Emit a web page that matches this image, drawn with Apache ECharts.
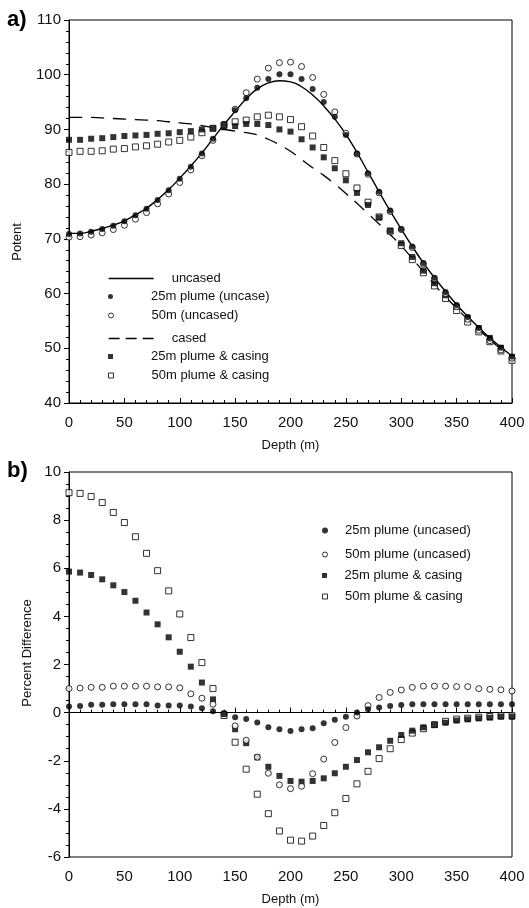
<!DOCTYPE html>
<html><head><meta charset="utf-8">
<script src="https://cdn.jsdelivr.net/npm/echarts@6/dist/echarts.min.js"></script>
<style>html,body{margin:0;padding:0;background:#fff}#c{width:529px;height:908px}</style>
</head><body><div id="c"></div>
<script>
// ---- data ----
const depth = [0,10,20,30,40,50,60,70,80,90,100,110,120,130,140,150,160,170,180,190,200,210,220,230,240,250,260,270,280,290,300,310,320,330,340,350,360,370,380,390,400];

// panel a) potential
const uncased = [71.0,71.0,71.4,71.9,72.5,73.3,74.4,75.6,77.2,79.0, 81.1,83.3,85.7,88.3,90.9,93.3,95.6,97.4,98.5,98.9, 98.7,97.8,96.3,94.3,91.9,89.1,85.8,82.2,78.6,75.1, 71.8,68.6,65.6,62.9,60.4,58.0,55.8,53.8,51.9,50.2, 48.6];
const plume25Uncased = [70.9,71.0,71.3,71.8,72.4,73.2,74.3,75.5,77.1,78.9, 81.0,83.2,85.6,88.3,91.0,93.5,95.7,97.6,99.2,100.1, 100.1,99.2,97.4,95.0,92.3,89.0,85.6,82.0,78.6,75.2, 71.8,68.6,65.6,62.9,60.3,57.9,55.7,53.7,51.8,50.1, 48.5];
const plume50Uncased = [70.3,70.4,70.7,71.1,71.7,72.5,73.6,74.8,76.4,78.2, 80.3,82.6,85.2,88.0,90.9,93.7,96.7,99.2,101.2,102.2, 102.3,101.5,99.5,96.4,93.2,89.3,85.5,81.8,78.4,75.0, 71.7,68.4,65.4,62.7,60.0,57.6,55.3,53.3,51.4,49.7, 48.2];
const cased = [92.2,92.2,92.2,92.1,92.0,91.9,91.8,91.7,91.6,91.4, 91.2,91.0,90.7,90.3,90.0,89.7,89.4,89.0,88.2,87.2, 86.0,84.5,83.0,81.6,80.0,78.3,76.5,74.6,72.7,70.8, 68.7,66.4,64.0,61.6,59.4,57.3,55.3,53.4,51.6,49.8, 48.0];
const plume25Casing = [88.1,88.1,88.3,88.4,88.6,88.8,88.9,89.0,89.2,89.3, 89.5,89.7,90.0,90.2,90.4,90.6,91.0,91.0,90.8,90.0, 89.6,88.2,86.7,84.9,82.9,80.7,78.4,76.2,73.9,71.5, 69.2,66.7,64.2,61.9,59.7,57.6,55.6,53.7,51.9,50.1, 48.4];
const plume50Casing = [85.8,86.0,86.0,86.1,86.4,86.5,86.8,87.0,87.3,87.7, 88.0,88.6,89.4,90.2,90.8,91.4,91.7,92.3,92.6,92.3, 91.8,90.5,88.8,86.7,84.3,81.9,79.3,76.7,74.0,71.4, 68.8,66.2,63.8,61.4,59.1,56.9,54.8,53.0,51.2,49.5, 47.8];

// panel b) percent difference
const diff25Uncased = [0.25,0.28,0.33,0.33,0.35,0.35,0.35,0.35,0.30,0.30, 0.30,0.25,0.18,0.06,-0.03,-0.19,-0.26,-0.41,-0.61,-0.69, -0.76,-0.69,-0.65,-0.44,-0.30,-0.17,0.01,0.14,0.21,0.28, 0.32,0.35,0.35,0.35,0.35,0.35,0.35,0.35,0.35,0.35, 0.35];
const diff50Uncased = [1.00,1.02,1.05,1.05,1.10,1.10,1.10,1.10,1.07,1.07, 1.03,0.78,0.60,0.35,-0.05,-0.55,-1.15,-1.85,-2.52,-3.00, -3.16,-3.06,-2.54,-1.93,-1.24,-0.62,-0.14,0.29,0.63,0.84, 0.94,1.05,1.10,1.10,1.10,1.08,1.08,1.00,0.97,0.95, 0.90];
const diff25Casing = [5.86,5.82,5.72,5.54,5.29,5.01,4.65,4.16,3.67,3.13, 2.53,1.91,1.25,0.55,-0.05,-0.69,-1.27,-1.86,-2.25,-2.63, -2.84,-2.87,-2.84,-2.73,-2.52,-2.25,-1.97,-1.65,-1.44,-1.17, -0.93,-0.75,-0.61,-0.51,-0.42,-0.33,-0.28,-0.24,-0.21,-0.17, -0.17];
const diff50Casing = [9.14,9.11,8.98,8.73,8.32,7.90,7.31,6.62,5.90,5.06, 4.10,3.12,2.08,1.00,-0.12,-1.23,-2.35,-3.39,-4.20,-4.92, -5.30,-5.34,-5.13,-4.69,-4.16,-3.57,-2.96,-2.44,-1.91,-1.50, -1.12,-0.85,-0.67,-0.50,-0.36,-0.27,-0.23,-0.19,-0.16,-0.13, -0.13];

const xTicks = {min:0, max:400, interval:50};
const yTicksA = {min:40, max:110, interval:10};
const yTicksB = {min:-6, max:10, interval:2};

// ---- chart ----
const FONT = '"Liberation Sans", Arial, Helvetica, sans-serif';
const INK = '#111';
const pairs = v => depth.map((d, i) => [d, v[i]]);
const chart = echarts.init(document.getElementById('c'));

function xAx(gi) {
  return {gridIndex: gi, type: 'value', min: xTicks.min, max: xTicks.max, interval: xTicks.interval,
    name: 'Depth (m)', nameLocation: 'middle', nameGap: 36,
    nameTextStyle: {fontFamily: FONT, fontSize: 13, color: INK},
    axisLine: {lineStyle: {color: '#000', width: 1}},
    axisTick: {inside: true, length: 5, lineStyle: {color: '#000'}},
    minorTick: {show: true, splitNumber: 5, length: 3, lineStyle: {color: '#000'}},
    splitLine: {show: false},
    axisLabel: {fontFamily: FONT, fontSize: 15, color: INK, margin: 12}};
}
function yAx(gi, t, minor) {
  return {gridIndex: gi, type: 'value', min: t.min, max: t.max, interval: t.interval,
    axisLine: {show: true, lineStyle: {color: '#000', width: 1}},
    axisTick: {show: true, inside: false, length: 5, lineStyle: {color: '#000'}},
    minorTick: {show: true, splitNumber: minor, length: 3, lineStyle: {color: '#000'}},
    splitLine: {show: false},
    axisLabel: {fontFamily: FONT, fontSize: 15, color: INK, margin: 8}};
}
const SQ = 'path://M0,0L10,0L10,10L0,10Z';
function mk(name, gi, data, symbol, filled, size) {
  return {name, type: 'scatter', xAxisIndex: gi, yAxisIndex: gi, data: pairs(data),
    symbol: symbol, symbolSize: size || 6, z: 5,
    itemStyle: filled ? {color: '#000'} : {color: '#fff', borderColor: '#000', borderWidth: 1}};
}
function leg(name, left, top, w, h, pad, icon, hideSymbol, dash) {
  return {data: [icon ? {name, icon} : name], left, top, itemWidth: w, itemHeight: h,
    selectedMode: false, padding: 0, orient: 'horizontal',
    itemStyle: hideSymbol ? {borderWidth: 0, opacity: 0} : {borderWidth: 1},
    lineStyle: dash ? {width: 1.3, type: dash} : {width: 1.3},
    textStyle: {fontFamily: FONT, fontSize: 13, color: INK, padding: [0, 0, 0, pad]}};
}

const option = {
  animation: false,
  backgroundColor: '#fff',
  grid: [
    {left: 69, top: 20, width: 443, height: 383, show: true, borderColor: '#000', borderWidth: 1, backgroundColor: 'transparent'},
    {left: 69, top: 472, width: 443, height: 385, show: true, borderColor: '#000', borderWidth: 1, backgroundColor: 'transparent'}
  ],
  xAxis: [xAx(0), xAx(1)],
  yAxis: [yAx(0, yTicksA, 5), yAx(1, yTicksB, 4)],
  legend: [
    leg('uncased', 108, 272, 45, 5, 13, null, true),
    leg('25m plume (uncase)', 108, 290, 45, 5, 13),
    leg('50m (uncased)', 108, 309, 45, 5, 13),
    leg('cased', 108, 332, 45, 5, 13, null, true, [11, 6]),
    leg('25m plume & casing', 108, 350, 45, 5, 13, SQ),
    leg('50m plume & casing', 108, 369, 45, 5, 13, SQ),
    leg('25m plume (uncased)', 322, 524, 30, 6, 0),
    leg('50m plume (uncased)', 322, 548, 30, 5, 0),
    leg('25m plume & casing', 322, 569, 30, 5, 0, SQ),
    leg('50m plume & casing', 322, 590, 30, 5, 0, SQ)
  ],
  series: [
    {name: 'cased', type: 'line', xAxisIndex: 0, yAxisIndex: 0, data: pairs(cased), smooth: true,
      symbol: 'none', itemStyle: {color: '#000'}, lineStyle: {color: '#000', width: 1.3, type: [13, 9]}, z: 2},
    {name: 'uncased', type: 'line', xAxisIndex: 0, yAxisIndex: 0, data: pairs(uncased), smooth: true,
      symbol: 'none', itemStyle: {color: '#000'}, lineStyle: {color: '#000', width: 1.4}, z: 2},
    mk('50m plume & casing', 0, plume50Casing, 'rect', false),
    mk('25m plume & casing', 0, plume25Casing, 'rect', true),
    mk('50m (uncased)', 0, plume50Uncased, 'circle', false),
    mk('25m plume (uncase)', 0, plume25Uncased, 'circle', true),

    Object.assign(mk('50m plume & casing', 1, diff50Casing, 'rect', false), {
      markLine: {silent: true, symbol: 'none', label: {show: false},
        lineStyle: {color: '#000', width: 1, type: [11, 10]}, data: [{yAxis: 0}]}}),
    mk('25m plume & casing', 1, diff25Casing, 'rect', true),
    mk('50m plume (uncased)', 1, diff50Uncased, 'circle', false),
    mk('25m plume (uncased)', 1, diff25Uncased, 'circle', true)
  ],
  graphic: [
    {type: 'text', x: 7, y: 20, style: {text: 'a)', fontFamily: FONT, fontSize: 22, fontWeight: 'bold', fill: '#000', verticalAlign: 'middle'}},
    {type: 'text', x: 7, y: 471, style: {text: 'b)', fontFamily: FONT, fontSize: 22, fontWeight: 'bold', fill: '#000', verticalAlign: 'middle'}},
    {type: 'text', x: 17, y: 242, rotation: Math.PI / 2, style: {text: 'Potent', fontFamily: FONT, fontSize: 13, fill: INK, align: 'center', verticalAlign: 'middle'}},
    {type: 'text', x: 27, y: 653, rotation: Math.PI / 2, style: {text: 'Percent Difference', fontFamily: FONT, fontSize: 13, fill: INK, align: 'center', verticalAlign: 'middle'}}
  ]
};
chart.setOption(option);
</script></body></html>
